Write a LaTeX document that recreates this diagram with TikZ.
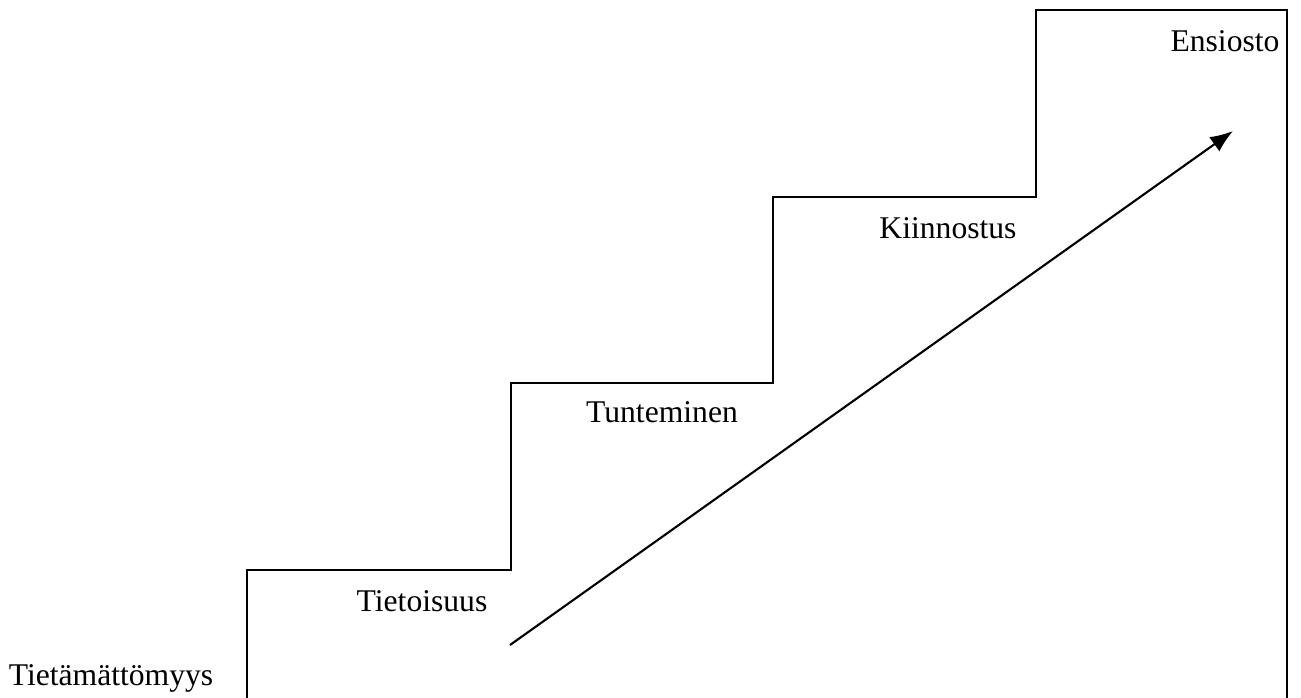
\documentclass[tikz,border=0pt]{standalone}
\usepackage{fontspec}
\setmainfont{Liberation Serif}
\usetikzlibrary{arrows.meta}
\begin{document}
\begin{tikzpicture}[x=0.02cm,y=-0.02cm,
  lbl/.style={anchor=base,inner sep=0pt,font=\fontsize{18}{20}\selectfont},
  stair/.style={line width=1.2pt,line join=miter},
  arr/.style={line width=1.2pt,-{Latex[length=13pt,width=10pt]}}]
\useasboundingbox (0,0) rectangle (1301,697);
\coordinate (s0) at (247,700);
\coordinate (s1) at (247,570);
\coordinate (s2) at (511,570);
\coordinate (s3) at (511,383);
\coordinate (s4) at (773,383);
\coordinate (s5) at (773,197);
\coordinate (s6) at (1036,197);
\coordinate (s7) at (1036,10);
\coordinate (s8) at (1287,10);
\coordinate (s9) at (1287,700);
\draw[stair] (s0) -- (s1) -- (s2) -- (s3) -- (s4) -- (s5) -- (s6) -- (s7) -- (s8) -- (s9);
\coordinate (a0) at (510,645);
\coordinate (a1) at (1233,131);
\draw[arr] (a0) -- (a1);
\node[lbl] (t0) at (111,685) {Tietämättömyys};
\node[lbl] (t1) at (422,611) {Tietoisuus};
\node[lbl] (t2) at (662,422) {Tunteminen};
\node[lbl] (t3) at (948,238) {Kiinnostus};
\node[lbl] (t4) at (1225,51) {Ensiosto};
\end{tikzpicture}
\end{document}
